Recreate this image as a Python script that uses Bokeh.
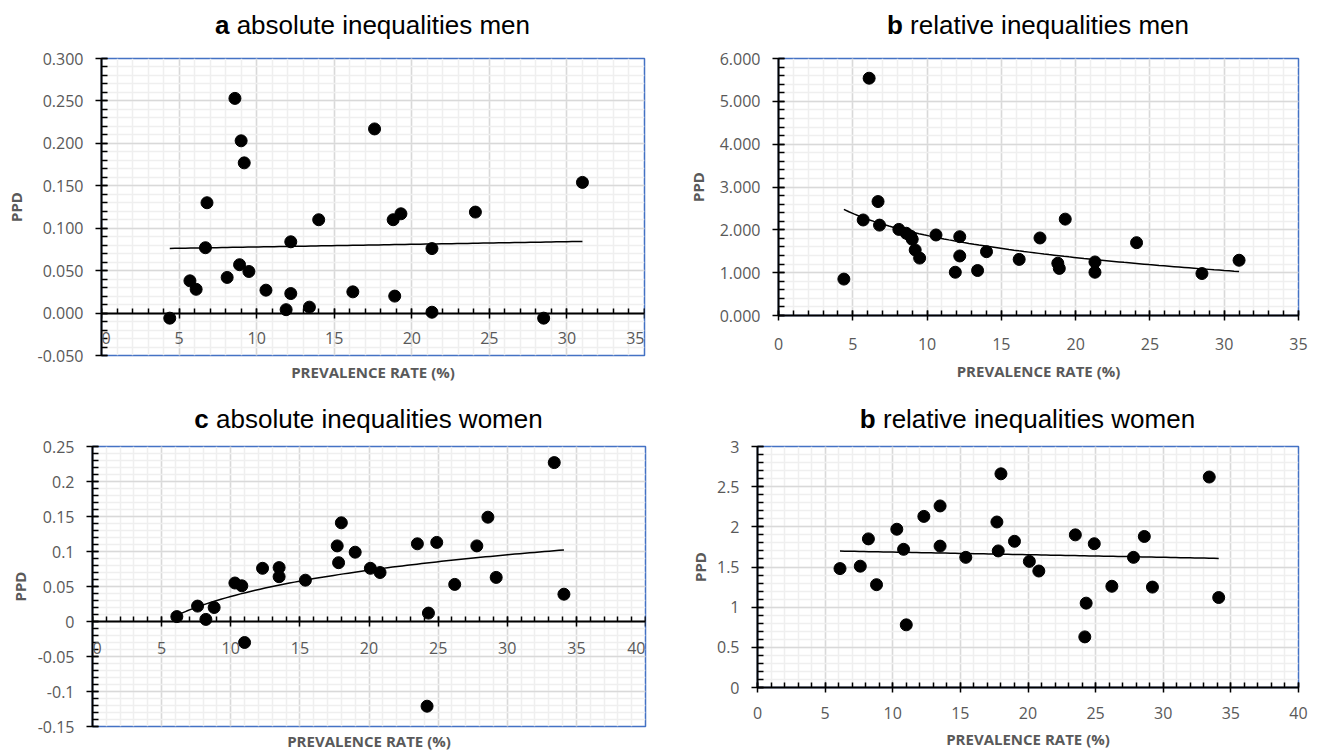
import numpy as np
from bokeh.plotting import figure
from bokeh.models import (Range1d, SingleIntervalTicker, FixedTicker, LinearAxis,
                          CustomJSTickFormatter, Div, Label)
from bokeh.layouts import column, row
from bokeh.embed import file_html
from bokeh.resources import INLINE

# ---------------- data ----------------
men_prev = [4.4, 5.7, 6.1, 6.7, 6.8, 8.1, 8.6, 8.9, 9.0, 9.2, 9.5, 10.6, 11.9, 12.2,
            12.2, 13.4, 14.0, 16.2, 17.6, 18.8, 18.9, 19.3, 21.3, 21.3, 24.1, 28.5, 31.0]
men_abs = [-0.006, 0.038, 0.028, 0.077, 0.130, 0.042, 0.253, 0.057, 0.203, 0.177, 0.049,
           0.027, 0.004, 0.084, 0.023, 0.007, 0.110, 0.025, 0.217, 0.110, 0.020, 0.117,
           0.076, 0.001, 0.119, -0.006, 0.154]
men_rel = [0.85, 2.23, 5.54, 2.66, 2.11, 2.01, 1.92, 1.85, 1.78, 1.53, 1.34, 1.88, 1.01,
           1.84, 1.39, 1.05, 1.49, 1.31, 1.81, 1.22, 1.10, 2.25, 1.25, 1.01, 1.70, 0.98, 1.29]

women_prev = [6.1, 7.6, 8.2, 8.8, 10.3, 10.8, 11.0, 12.3, 13.5, 13.5, 15.4, 17.7, 17.8,
              18.0, 19.0, 20.1, 20.8, 23.5, 24.2, 24.3, 24.9, 26.2, 27.8, 28.6, 29.2, 33.4, 34.1]
women_abs = [0.007, 0.022, 0.003, 0.020, 0.055, 0.051, -0.030, 0.076, 0.077, 0.064, 0.059,
             0.108, 0.084, 0.141, 0.099, 0.076, 0.070, 0.111, -0.121, 0.012, 0.113, 0.053,
             0.108, 0.149, 0.063, 0.227, 0.039]
women_rel = [1.48, 1.51, 1.85, 1.28, 1.97, 1.72, 0.78, 2.13, 2.26, 1.76, 1.62, 2.06, 1.70,
             2.66, 1.82, 1.57, 1.45, 1.90, 0.63, 1.05, 1.79, 1.26, 1.62, 1.88, 1.25, 2.62, 1.12]

panel_letters = ["a", "b", "c", "b"]
panel_titles = ["absolute inequalities men", "relative inequalities men",
                "absolute inequalities women", "relative inequalities women"]
x_title = "PREVALENCE RATE (%)"
y_title = "PPD"

GRAY = "#595959"
BLUE = "#4472C4"
FONT = "Open Sans"


def make_fig(xs, ys, x_end, y_start, y_end, y_step, fixed3, fit, ml, fw, mr, mt, fh, mb,
             zero_axis, y_label_standoff, x_label_standoff, x_tick_standoff):
    p = figure(frame_width=fw, frame_height=fh, min_border_left=ml, min_border_right=mr,
               min_border_top=mt, min_border_bottom=mb,
               x_range=Range1d(0, x_end), y_range=Range1d(y_start, y_end),
               output_backend="svg", toolbar_location=None)
    p.outline_line_color = BLUE
    p.outline_line_width = 1.5
    p.background_fill_color = "white"
    p.border_fill_color = "white"

    n = int(round((y_end - y_start) / y_step))
    yticks = [round(y_start + i * y_step, 6) for i in range(n + 1)]
    yminor = [round(y_start + i * y_step / 5, 6) for i in range(5 * n + 1)]
    xt = SingleIntervalTicker(interval=5, num_minor_ticks=5)
    yt = FixedTicker(ticks=yticks, minor_ticks=yminor)
    p.xaxis.ticker = xt
    p.yaxis.ticker = yt
    p.xgrid.ticker = xt
    p.ygrid.ticker = yt
    for g in (p.xgrid, p.ygrid):
        g.grid_line_color = "#d9d9d9"
        g.grid_line_width = 1.5
        g.minor_grid_line_color = "#efefef"
        g.minor_grid_line_width = 1.5

    if fixed3:
        p.yaxis.formatter = CustomJSTickFormatter(code="return tick.toFixed(3);")
    else:
        p.yaxis.formatter = CustomJSTickFormatter(code="return String(Number(tick.toFixed(3)));")

    for ax in (p.xaxis[0], p.yaxis[0]):
        ax.axis_line_color = "black"
        ax.axis_line_width = 2
        ax.major_tick_line_color = "black"
        ax.minor_tick_line_color = "black"
        ax.major_tick_line_width = 1.5
        ax.minor_tick_line_width = 1.5
        ax.major_label_text_font = FONT
        ax.major_label_text_font_size = "16px"
        ax.major_label_text_color = GRAY
        ax.axis_label_text_font = FONT
        ax.axis_label_text_font_size = "15px"
        ax.axis_label_text_font_style = "bold"
        ax.axis_label_text_color = GRAY

    ya = p.yaxis[0]
    ya.major_tick_in = 6
    ya.major_tick_out = 6
    ya.minor_tick_in = 6
    ya.minor_tick_out = 0
    ya.major_label_standoff = 12
    ya.axis_label = y_title
    ya.axis_label_standoff = y_label_standoff

    xa = p.xaxis[0]
    xa.major_tick_in = 5
    xa.major_tick_out = 5
    xa.minor_tick_in = 5
    xa.minor_tick_out = 0
    xa.major_label_standoff = x_tick_standoff
    if zero_axis:
        # axis crossing at y = 0, its labels written just under the line
        xa.fixed_location = 0
        xa.axis_label = None
        xa.formatter = CustomJSTickFormatter(code="return '';")
        xticks = list(range(0, x_end + 1, 5))
        for i, v in enumerate(xticks):
            align = "left" if i == 0 else ("right" if i == len(xticks) - 1 else "center")
            p.add_layout(Label(x=v, y=0, text=str(v), y_offset=-x_tick_standoff,
                               text_align=align, text_baseline="middle",
                               text_font=FONT, text_font_size="16px", text_color=GRAY))
        dummy = LinearAxis(ticker=FixedTicker(ticks=[]), axis_label=x_title,
                           axis_line_color=None, major_tick_line_color=None,
                           minor_tick_line_color=None, major_tick_out=0, major_tick_in=0,
                           minor_tick_out=0, minor_tick_in=0, major_label_standoff=0,
                           axis_label_standoff=x_label_standoff,
                           axis_label_text_font=FONT, axis_label_text_font_size="15px",
                           axis_label_text_font_style="bold", axis_label_text_color=GRAY)
        p.add_layout(dummy, "below")
    else:
        xa.axis_label = x_title
        xa.axis_label_standoff = x_label_standoff

    # trend line fitted to the data (Excel-style)
    xa_ = np.array(xs, dtype=float)
    ya_ = np.array(ys, dtype=float)
    tx = np.linspace(xa_.min(), xa_.max(), 80)
    if fit == "log":
        b, a = np.polyfit(np.log(xa_), ya_, 1)
        ty = a + b * np.log(tx)
    else:
        b, a = np.polyfit(xa_, ya_, 1)
        ty = a + b * tx
    p.line(tx, ty, line_color="black", line_width=1.5)

    p.scatter(xs, ys, size=12, fill_color="black", line_color="black")
    return p


def title_div(letter, text, ml, fw, width, height, pad):
    html = (f'<div style="margin-left:{ml}px;width:{fw}px;text-align:center;'
            f'font-family:\'Liberation Sans\',Arial,sans-serif;font-size:26px;'
            f'line-height:28px;padding-top:{pad}px;color:#000;white-space:nowrap;">'
            f'<b>{letter}</b> {text}</div>')
    return Div(text=html, width=width, height=height, margin=0)


pa = make_fig(men_prev, men_abs, 35, -0.05, 0.3, 0.05, True, "linear",
              101, 543, 16, 12, 297, 31, True, 9, 6, 25)
pb = make_fig(men_prev, men_rel, 35, 0, 6, 1, True, "log",
              118, 520, 20, 12, 257, 71, False, 9, 8, 17)
pc = make_fig(women_prev, women_abs, 40, -0.15, 0.25, 0.05, False, "log",
              92, 553, 15, 12, 280, 24, True, 5, 4, 26)
pd_ = make_fig(women_prev, women_rel, 40, 0, 3, 0.5, False, "linear",
               97, 541, 20, 12, 241, 63, False, 4, 7, 14)

da = title_div(panel_letters[0], panel_titles[0], 101, 543, 660, 46, 11)
db = title_div(panel_letters[1], panel_titles[1], 118, 520, 658, 46, 11)
dc = title_div(panel_letters[2], panel_titles[2], 92, 553, 660, 48, 19)
dd = title_div(panel_letters[3], panel_titles[3], 97, 541, 658, 48, 19)

layout = column(row(column(da, pa), column(db, pb)),
                row(column(dc, pc), column(dd, pd_)))

open("out.html", "w").write(file_html(layout, INLINE))
